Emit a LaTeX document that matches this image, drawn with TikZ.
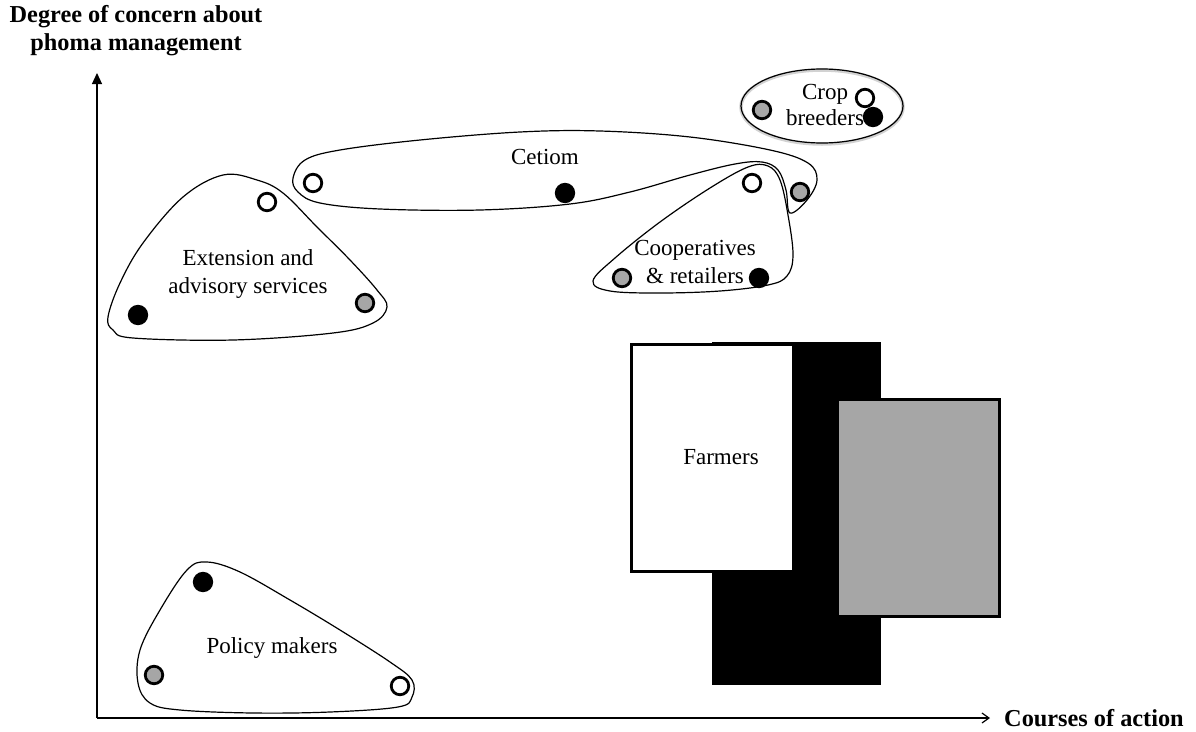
\documentclass[tikz,border=0pt]{standalone}
\usepackage{fontspec}
\setmainfont{Liberation Serif}
\usepackage{tikz}
\usetikzlibrary{arrows.meta}
\definecolor{midgray}{HTML}{A6A6A6}

\begin{document}
\begin{tikzpicture}[
    opendot/.style={circle, draw, line width=2.8pt, minimum size=17.5pt, inner sep=0pt, fill=white},
    blackdot/.style={opendot, fill=black},
    graydot/.style={opendot, fill=midgray},
    hull/.style={line width=1.2pt},
    tag/.style={align=center, inner sep=0pt, font=\fontsize{23}{28}\selectfont},
    axistag/.style={tag, font=\fontsize{24.3}{28}\selectfont\bfseries}]
    \useasboundingbox (0pt,0pt) rectangle (1196pt,-731pt);

    % axes
    \coordinate (0) at (97pt,-718pt);
    \coordinate (ytip) at (97pt,-73pt);
    \coordinate (xtip) at (990pt,-718pt);
    \draw[line width=1.2pt, -{Triangle[width=10pt,length=11pt]}] (0) -- (ytip);
    \draw[line width=1.2pt, -{Straight Barb[width=10pt,length=7pt]}] (0) -- (xtip);
    \node[axistag] (ylabel) at (136pt,-31pt) {Degree of concern about\\phoma management};
    \node[axistag, anchor=west] (xlabel) at (1004pt,-718pt) {Courses of action};

    % farmers
    \node[rectangle, fill=black, minimum width=169pt, minimum height=343pt]
        (fblack) at (796.5pt,-513.5pt) {};
    \node[rectangle, draw, fill=white, line width=3pt, minimum width=162pt, minimum height=227pt]
        (fwhite) at (712.5pt,-458pt) {};
    \node[rectangle, draw, fill=midgray, line width=3pt, minimum width=162pt, minimum height=217pt]
        (fgray) at (918.5pt,-508pt) {};
    \node[tag] (farmers) at (721pt,-457pt) {Farmers};

    % groups
    \draw[hull] plot[smooth cycle, tension=0.6] coordinates {
        (293pt,-178pt) (305pt,-160pt) (340pt,-150pt) (420pt,-140pt) (520pt,-132pt)
        (600pt,-131pt) (690pt,-137pt) (770pt,-150pt) (808pt,-163pt) (817pt,-180pt)
        (807pt,-200pt) (790pt,-213pt) (786pt,-190pt) (778pt,-170pt) (762pt,-162pt)
        (735pt,-164pt) (690pt,-175pt) (630pt,-192pt) (570pt,-204pt) (480pt,-210pt)
        (380pt,-209pt) (320pt,-203pt) (298pt,-192pt)};
    \draw[hull] plot[smooth cycle, tension=0.6] coordinates {
        (593pt,-281pt) (615pt,-258pt) (660pt,-222pt) (710pt,-188pt) (748pt,-167pt)
        (768pt,-166pt) (780pt,-180pt) (788pt,-215pt) (793pt,-255pt) (787pt,-276pt)
        (768pt,-285pt) (720pt,-291pt) (660pt,-293pt) (610pt,-291pt)};
    \draw[hull] plot[smooth cycle, tension=0.6] coordinates {
        (223pt,-175pt) (257pt,-180pt) (283pt,-193pt) (317pt,-227pt) (350pt,-260pt)
        (377pt,-290pt) (387pt,-307pt) (373pt,-323pt) (333pt,-333pt) (233pt,-340pt)
        (133pt,-338pt) (113pt,-330pt) (108pt,-317pt) (120pt,-283pt) (143pt,-243pt)
        (183pt,-197pt)};
    \draw[hull] plot[smooth cycle, tension=0.6] coordinates {
        (207pt,-562pt) (240pt,-572pt) (290pt,-600pt) (340pt,-630pt) (390pt,-662pt)
        (412pt,-680pt) (412pt,-697pt) (398pt,-707pt) (330pt,-712pt) (253pt,-713pt)
        (180pt,-710pt) (150pt,-703pt) (138pt,-683pt) (140pt,-650pt) (160pt,-610pt)
        (187pt,-570pt)};
    \draw[gray!35, line width=3.5pt] (822pt,-107pt) ellipse [x radius=81pt, y radius=37pt];
    \draw[hull] (822pt,-106pt) ellipse [x radius=81pt, y radius=37pt];

    % group labels
    \node[tag] (cetiom) at (545pt,-157pt) {Cetiom};
    \node[tag] (breeders) at (825pt,-105pt) {Crop\\[-2pt]breeders};
    \node[tag] (coops) at (695pt,-262pt) {Cooperatives\\\& retailers};
    \node[tag] (extension) at (248pt,-274pt) {Extension and\\advisory services};
    \node[tag] (policy) at (272pt,-648pt) {Policy makers};

    % actors
    \node[graydot] (b1) at (762pt,-110pt) {};
    \node[opendot] (b2) at (865pt,-98pt) {};
    \node[blackdot] (b3) at (873pt,-117pt) {};
    \node[opendot] (c1) at (313pt,-183pt) {};
    \node[blackdot] (c2) at (565pt,-193pt) {};
    \node[opendot] (c3) at (752pt,-183pt) {};
    \node[graydot] (c4) at (800pt,-192pt) {};
    \node[graydot] (r1) at (622pt,-278pt) {};
    \node[blackdot] (r2) at (759pt,-278pt) {};
    \node[opendot] (e1) at (267pt,-202pt) {};
    \node[blackdot] (e2) at (138pt,-315pt) {};
    \node[graydot] (e3) at (365pt,-303pt) {};
    \node[blackdot] (p1) at (203pt,-582pt) {};
    \node[graydot] (p2) at (154pt,-675pt) {};
    \node[opendot] (p3) at (400pt,-686pt) {};
\end{tikzpicture}
\end{document}
